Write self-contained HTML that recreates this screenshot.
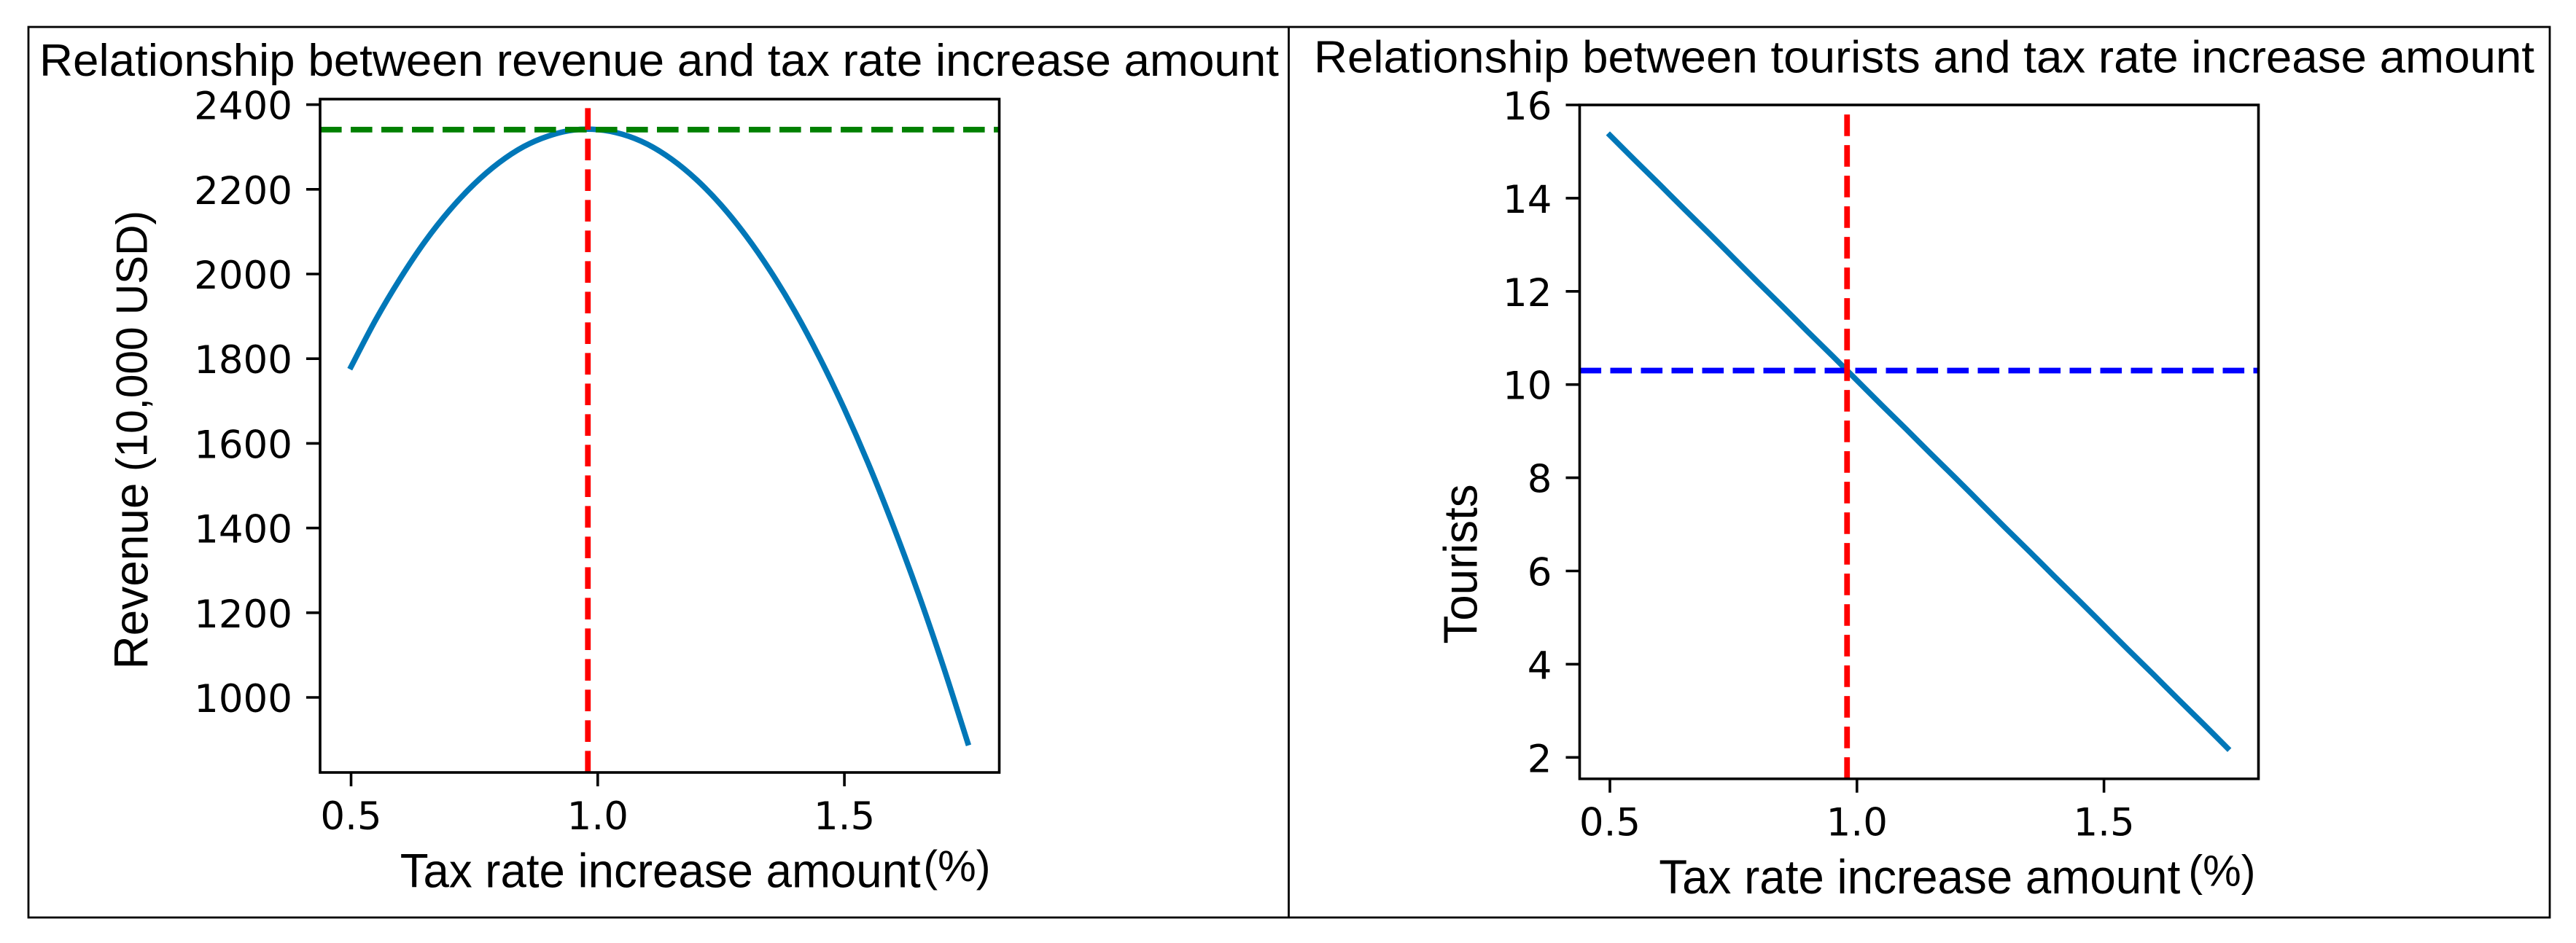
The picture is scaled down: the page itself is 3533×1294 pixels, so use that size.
<!DOCTYPE html>
<html lang="en">
<head>
<meta charset="utf-8">
<title>Revenue and tourists versus tax rate increase amount</title>
<style>
  html, body { margin: 0; padding: 0; background: #ffffff; width: 3533px; height: 1294px; overflow: hidden; }
  svg { display: block; }
  .sans { font-family: "Liberation Sans", Arial, sans-serif; fill: #000; }
  .tick { font-family: "DejaVu Sans", sans-serif; font-size: 53px; fill: #000; }
</style>
</head>
<body>
<svg id="figure" xmlns="http://www.w3.org/2000/svg" width="3533" height="1294" viewBox="0 0 3533 1294">
  <rect x="0" y="0" width="3533" height="1294" fill="#ffffff"/>
  <rect x="39" y="37" width="3458" height="1222" fill="none" stroke="#000" stroke-width="2.8"/>
  <line x1="1767.5" y1="37" x2="1767.5" y2="1259" stroke="#000" stroke-width="2.8"/>

  <text class="sans" x="54" y="104" font-size="62.5" textLength="1700" lengthAdjust="spacingAndGlyphs">Relationship between revenue and tax rate increase amount</text>
  <text class="sans" x="1802" y="99.5" font-size="62.5" textLength="1674" lengthAdjust="spacingAndGlyphs">Relationship between tourists and tax rate increase amount</text>

  <text class="sans" transform="translate(202.5,918.5) rotate(-90)" font-size="66" textLength="256" lengthAdjust="spacingAndGlyphs">Revenue</text>
  <text class="sans" transform="translate(201.5,647) rotate(-90)" font-size="60" textLength="358" lengthAdjust="spacingAndGlyphs">(10,000 USD)</text>
  <text class="sans" transform="translate(2025.5,883.5) rotate(-90)" font-size="65" textLength="219" lengthAdjust="spacingAndGlyphs">Tourists</text>

  <text class="sans" x="548.7" y="1217.5" font-size="66" textLength="714" lengthAdjust="spacingAndGlyphs">Tax rate increase amount</text>
  <text class="sans" x="1266.4" y="1209" font-size="60" textLength="92" lengthAdjust="spacingAndGlyphs">(%)</text>
  <text class="sans" x="2275.3" y="1226" font-size="66" textLength="715" lengthAdjust="spacingAndGlyphs">Tax rate increase amount</text>
  <text class="sans" x="3001.4" y="1215.5" font-size="60" textLength="92" lengthAdjust="spacingAndGlyphs">(%)</text>

  <g id="revenue-chart"></g>
  <g id="tourists-chart"></g>
</svg>

<script>
// Data
const taxRateIncrease = [0.50,0.55,0.60,0.65,0.70,0.75,0.80,0.85,0.90,0.95,1.00,1.05,1.10,1.15,1.20,1.25,1.30,1.35,1.40,1.45,1.50,1.55,1.60,1.65,1.70,1.75];
const revenueValues = [1781,1892,1990,2077,2151,2213,2263,2301,2326,2340,2341,2330,2307,2271,2223,2163,2091,2007,1911,1802,1681,1548,1402,1245,1075,893];
const touristValues = [15.35,14.82,14.30,13.77,13.25,12.72,12.19,11.67,11.14,10.62,10.09,9.56,9.04,8.51,7.99,7.46,6.93,6.41,5.88,5.36,4.83,4.30,3.78,3.25,2.73,2.20];
const optimalTaxRate = 0.98;
const peakRevenue = 2341;
const touristsAtOptimum = 10.3;
const xTickValues = [0.5, 1.0, 1.5];
const xTickLabels = ['0.5', '1.0', '1.5'];
const revenueTickValues = [1000, 1200, 1400, 1600, 1800, 2000, 2200, 2400];
const revenueTickLabels = ['1000', '1200', '1400', '1600', '1800', '2000', '2200', '2400'];
const touristTickValues = [2, 4, 6, 8, 10, 12, 14, 16];
const touristTickLabels = ['2', '4', '6', '8', '10', '12', '14', '16'];

const NS = 'http://www.w3.org/2000/svg';
function make(parent, tag, attrs) {
  const el = document.createElementNS(NS, tag);
  for (const k in attrs) el.setAttribute(k, attrs[k]);
  parent.appendChild(el);
  return el;
}

// Smooth path through the data points (Catmull-Rom converted to cubic Bezier)
function smoothPath(p) {
  let d = 'M' + p[0][0].toFixed(2) + ' ' + p[0][1].toFixed(2);
  for (let i = 0; i < p.length - 1; i++) {
    const a = p[Math.max(i - 1, 0)], b = p[i], c = p[i + 1], e = p[Math.min(i + 2, p.length - 1)];
    const c1x = b[0] + (c[0] - a[0]) / 6, c1y = b[1] + (c[1] - a[1]) / 6;
    const c2x = c[0] - (e[0] - b[0]) / 6, c2y = c[1] - (e[1] - b[1]) / 6;
    d += 'C' + c1x.toFixed(2) + ' ' + c1y.toFixed(2) + ' ' + c2x.toFixed(2) + ' ' + c2y.toFixed(2) + ' ' + c[0].toFixed(2) + ' ' + c[1].toFixed(2);
  }
  return d;
}

function drawChart(cfg) {
  const g = document.getElementById(cfg.id);
  const box = cfg.box;

  // data line
  const pts = taxRateIncrease.map((v, i) => [cfg.x(v), cfg.y(cfg.values[i])]);
  const line = make(g, 'path', { d: smoothPath(pts), fill: 'none', stroke: '#0077b8', 'stroke-width': 7.6, 'stroke-linecap': 'square', 'stroke-linejoin': 'round' });
  
  

  // horizontal reference line
  const h = make(g, 'line', { x1: box.left, x2: box.right, y1: cfg.y(cfg.hValue), y2: cfg.y(cfg.hValue), stroke: cfg.hColor, 'stroke-width': 7.8, 'stroke-dasharray': '29.6 12.4' });
  
  

  // vertical reference line (drawn from the bottom of the axes upward)
  const v = make(g, 'line', { x1: cfg.x(optimalTaxRate), x2: cfg.x(optimalTaxRate), y1: box.bottom, y2: cfg.redTop, stroke: '#ff0000', 'stroke-width': 7.8, 'stroke-dasharray': '29.6 12.4' });
  
  

  // x ticks
  xTickValues.forEach((val, i) => {
    const t = make(g, 'line', { x1: cfg.x(val), x2: cfg.x(val), y1: box.bottom, y2: box.bottom + 19, stroke: '#000', 'stroke-width': 3.6 });
    
    
    const l = make(g, 'text', { x: cfg.x(val), y: box.bottom + 78, 'text-anchor': 'middle', class: 'tick' });
    l.textContent = xTickLabels[i];
    
    
  });

  // y ticks
  cfg.yTicks.forEach((val, i) => {
    const t = make(g, 'line', { x1: box.left - 19, x2: box.left, y1: cfg.y(val), y2: cfg.y(val), stroke: '#000', 'stroke-width': 3.6 });
    
    
    const l = make(g, 'text', { x: box.left - 38, y: cfg.y(val) + 20, 'text-anchor': 'end', class: 'tick' });
    l.textContent = cfg.yLabels[i];
    
    
  });

  // axes box
  const frame = make(g, 'rect', { x: box.left, y: box.top, width: box.right - box.left, height: box.bottom - box.top, fill: 'none', stroke: '#000', 'stroke-width': 3.6 });
  
  
}

drawChart({
  id: 'revenue-chart',
  prefix: 'revenue',
  box: { left: 439, right: 1370.5, top: 136, bottom: 1060 },
  x: v => 481.5 + (v - 0.5) * 676.6,
  y: v => 957 - (v - 1000) * 0.581,
  values: revenueValues,
  hValue: peakRevenue,
  hColor: '#008000',
  redTop: 146.7,
  yTicks: revenueTickValues,
  yLabels: revenueTickLabels
});

drawChart({
  id: 'tourists-chart',
  prefix: 'tourists',
  box: { left: 2166.5, right: 3097.5, top: 144, bottom: 1068.7 },
  x: v => 2208 + (v - 0.5) * 677.6,
  y: v => 1039.3 - (v - 2) * 63.95,
  values: touristValues,
  hValue: touristsAtOptimum,
  hColor: '#0000ff',
  redTop: 155.7,
  yTicks: touristTickValues,
  yLabels: touristTickLabels
});
</script>
</body>
</html>
